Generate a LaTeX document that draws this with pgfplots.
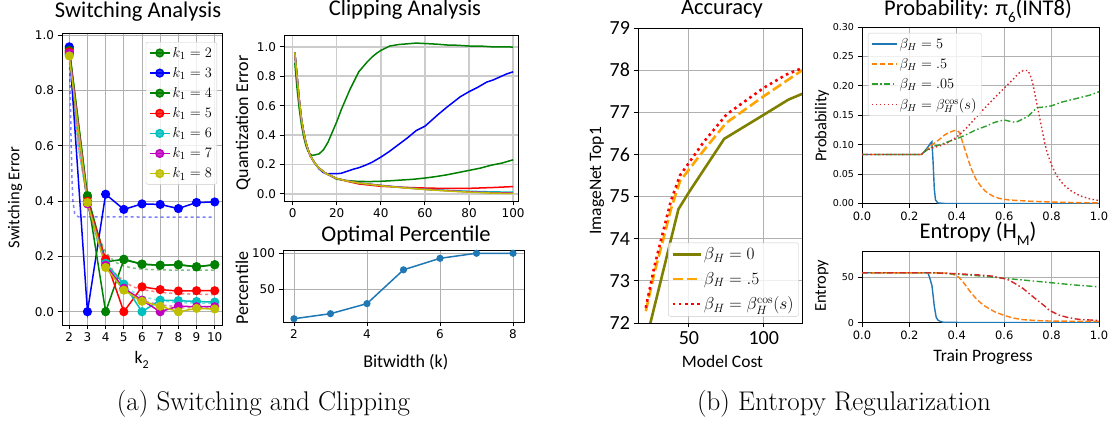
\documentclass[border=0pt]{standalone}
\usepackage{pgfplots}
\pgfplotsset{compat=1.18}
\usepackage{fontspec}
\newfontfamily\carl{Carlito}
\newfontfamily\dv{DejaVu Sans}
\definecolor{mg}{rgb}{0,0.5,0}
\definecolor{mb}{rgb}{0,0,1}
\definecolor{mr}{rgb}{1,0,0}
\definecolor{mc}{rgb}{0,0.75,0.75}
\definecolor{mm}{rgb}{0.75,0,0.75}
\definecolor{my}{rgb}{0.75,0.75,0}
\definecolor{tabblue}{HTML}{1F77B4}
\definecolor{taborange}{HTML}{FF7F0E}
\definecolor{tabgreen}{HTML}{2CA02C}
\definecolor{tabred}{HTML}{D62728}
\definecolor{accolive}{HTML}{808000}
\definecolor{accorange}{HTML}{FFA500}
\definecolor{gridc}{HTML}{B0B0B0}
\pgfplotsset{
  mpl/.style={
    scale only axis,
    axis line style={black, line width=0.9pt},
    tick style={black, line width=0.9pt},
    major tick length=4.5pt,
    tick align=outside,
    tick pos=left,
    grid=major,
    grid style={gridc, line width=0.9pt},
    /pgf/number format/assume math mode=true,
    tick label style={font=\dv\fontsize{12}{14}\selectfont},
    legend cell align=left,
    anchor=south west,
  },
  onedec/.style={/pgf/number format/fixed, /pgf/number format/fixed zerofill, /pgf/number format/precision=1},
  twodec/.style={/pgf/number format/fixed, /pgf/number format/fixed zerofill, /pgf/number format/precision=2},
}
\begin{document}
\begin{tikzpicture}
\useasboundingbox (0,0) rectangle (1110pt,425pt);

% ---------------- Switching Analysis ----------------
\begin{axis}[mpl, at={(62pt,100pt)}, width=160pt, height=292pt,
  xmin=1.6, xmax=10.4, ymin=-0.048, ymax=1.008,
  xtick={2,3,4,5,6,7,8,9,10}, ytick={0,0.2,0.4,0.6,0.8,1.0},
  yticklabel style={onedec},
  legend style={at={(0.969,0.969)}, anchor=north east, font=\fontsize{15}{17}\selectfont,
    draw=black!20, rounded corners=2pt, fill=white, fill opacity=0.8, text opacity=1,
    row sep=4.6pt, inner sep=3pt},
  legend image code/.code={\draw[#1, mark repeat=2, mark phase=2] plot coordinates {(0pt,0pt) (10pt,0pt) (20pt,0pt)};},
]
\addplot[forget plot, mb, opacity=0.5, line width=1.5pt, dashed] coordinates {(2,0.95)(2.05,0.80)(2.1,0.62)(2.15,0.48)(2.2,0.40)(2.3,0.355)(2.5,0.343)(10,0.342)};
\addplot[forget plot, mg, opacity=0.5, line width=1.5pt, dashed] coordinates {(2,0.95)(2.5,0.62)(3,0.42)(3.5,0.29)(4,0.215)(4.5,0.18)(5,0.165)(5.5,0.158)(6,0.154)(7,0.151)(10,0.15)};
\addplot[forget plot, mr, opacity=0.5, line width=1.5pt, dashed] coordinates {(2,0.94)(2.5,0.6)(3,0.4)(3.5,0.27)(4,0.19)(4.5,0.14)(5,0.11)(5.5,0.09)(6,0.08)(7,0.07)(8,0.065)(10,0.062)};
\addplot[forget plot, mc, opacity=0.5, line width=1.5pt, dashed] coordinates {(2,0.93)(2.5,0.59)(3,0.39)(3.5,0.26)(4,0.175)(4.5,0.12)(5,0.09)(6,0.055)(7,0.04)(8,0.033)(10,0.03)};
\addplot[forget plot, mm, opacity=0.5, line width=1.5pt, dashed] coordinates {(2,0.93)(3,0.39)(4,0.17)(5,0.08)(6,0.04)(7,0.025)(8,0.018)(10,0.015)};
\addplot[forget plot, my, opacity=0.5, line width=1.5pt, dashed] coordinates {(2,0.925)(3,0.39)(4,0.165)(5,0.075)(6,0.035)(7,0.02)(8,0.013)(10,0.01)};
\addplot[mg, line width=1.5pt, mark=*, mark size=3.8pt] coordinates {(2,0.952)(3,0.420)(4,0.180)(5,0.190)(6,0.172)(7,0.168)(8,0.170)(9,0.163)(10,0.170)};
\addlegendentry{$k_1 = 2$}
\addplot[mb, line width=1.5pt, mark=*, mark size=3.8pt] coordinates {(2,0.958)(3,0.0)(4,0.425)(5,0.370)(6,0.390)(7,0.388)(8,0.373)(9,0.395)(10,0.397)};
\addlegendentry{$k_1 = 3$}
\addplot[mg, line width=1.5pt, mark=*, mark size=3.8pt] coordinates {(2,0.945)(3,0.415)(4,0.0)(5,0.188)(6,0.172)(7,0.168)(8,0.170)(9,0.162)(10,0.170)};
\addlegendentry{$k_1 = 4$}
\addplot[mr, line width=1.5pt, mark=*, mark size=3.8pt] coordinates {(2,0.940)(3,0.400)(4,0.190)(5,0.0)(6,0.090)(7,0.080)(8,0.075)(9,0.076)(10,0.076)};
\addlegendentry{$k_1 = 5$}
\addplot[mc, line width=1.5pt, mark=*, mark size=3.8pt] coordinates {(2,0.930)(3,0.392)(4,0.175)(5,0.100)(6,0.0)(7,0.042)(8,0.040)(9,0.037)(10,0.035)};
\addlegendentry{$k_1 = 6$}
\addplot[mm, line width=1.5pt, mark=*, mark size=3.8pt] coordinates {(2,0.935)(3,0.390)(4,0.168)(5,0.085)(6,0.042)(7,0.0)(8,0.020)(9,0.018)(10,0.018)};
\addlegendentry{$k_1 = 7$}
\addplot[my, line width=1.5pt, mark=*, mark size=3.8pt] coordinates {(2,0.925)(3,0.395)(4,0.160)(5,0.078)(6,0.038)(7,0.020)(8,0.0)(9,0.012)(10,0.010)};
\addlegendentry{$k_1 = 8$}
\end{axis}

% ---------------- Clipping Analysis ----------------
\begin{axis}[mpl, at={(284pt,224pt)}, width=234pt, height=166pt,
  xmin=-3.9, xmax=102.2, ymin=-0.048, ymax=1.08,
  xtick={0,20,40,60,80,100}, ytick={0,0.2,0.4,0.6,0.8,1.0},
  grid style={black!20, line width=1.5pt},
  yticklabel style={onedec},
]
\addplot[mg, line width=1.5pt] coordinates {(1,0.89)(2,0.72)(3,0.58)(4,0.47)(5,0.39)(6,0.33)(7,0.29)(8,0.27)(9,0.262)(10,0.265)(12,0.272)(14,0.30)(16,0.35)(18,0.42)(20,0.49)(22,0.57)(24,0.64)(26,0.71)(28,0.77)(30,0.83)(32,0.865)(34,0.90)(36,0.93)(38,0.955)(40,0.975)(42,0.99)(44,1.005)(48,1.015)(52,1.02)(56,1.025)(60,1.022)(65,1.018)(70,1.012)(75,1.01)(80,1.005)(85,1.005)(90,1.0)(95,1.0)(100,0.998)};
\addplot[mb, line width=1.5pt] coordinates {(1,0.96)(2,0.80)(3,0.64)(4,0.51)(5,0.42)(6,0.35)(7,0.30)(8,0.26)(10,0.21)(12,0.17)(14,0.145)(16,0.137)(18,0.138)(20,0.138)(22,0.14)(25,0.155)(28,0.17)(30,0.178)(33,0.195)(36,0.215)(40,0.25)(44,0.29)(48,0.335)(52,0.38)(56,0.43)(60,0.46)(63,0.50)(66,0.54)(70,0.59)(73,0.625)(76,0.66)(80,0.695)(84,0.725)(88,0.76)(91,0.775)(94,0.795)(97,0.815)(100,0.83)};
\addplot[mg, line width=1.5pt] coordinates {(1,0.96)(2,0.80)(3,0.64)(4,0.51)(5,0.42)(6,0.35)(7,0.30)(8,0.26)(10,0.21)(12,0.175)(15,0.14)(20,0.10)(25,0.09)(30,0.085)(35,0.084)(40,0.086)(45,0.09)(50,0.095)(55,0.10)(60,0.108)(65,0.118)(70,0.13)(75,0.145)(80,0.16)(85,0.175)(90,0.195)(95,0.21)(100,0.232)};
\addplot[mr, line width=1.5pt] coordinates {(1,0.96)(2,0.80)(3,0.64)(4,0.51)(5,0.42)(6,0.35)(7,0.30)(8,0.26)(10,0.21)(12,0.175)(15,0.14)(20,0.105)(25,0.085)(30,0.068)(40,0.052)(50,0.045)(60,0.04)(70,0.037)(80,0.038)(90,0.043)(100,0.05)};
\addplot[mc, line width=1.5pt] coordinates {(1,0.96)(2,0.80)(3,0.64)(4,0.51)(5,0.42)(6,0.35)(7,0.30)(8,0.26)(10,0.21)(12,0.175)(15,0.14)(20,0.105)(25,0.088)(30,0.075)(40,0.058)(50,0.044)(60,0.032)(70,0.024)(80,0.018)(90,0.014)(100,0.012)};
\addplot[mm, line width=1.5pt] coordinates {(1,0.96)(2,0.80)(3,0.64)(4,0.51)(5,0.42)(6,0.35)(7,0.30)(8,0.26)(10,0.21)(12,0.175)(15,0.14)(20,0.105)(25,0.088)(30,0.075)(40,0.058)(50,0.043)(60,0.031)(70,0.022)(80,0.014)(90,0.009)(100,0.006)};
\addplot[my, line width=1.5pt] coordinates {(1,0.96)(2,0.80)(3,0.64)(4,0.51)(5,0.42)(6,0.35)(7,0.30)(8,0.26)(10,0.21)(12,0.175)(15,0.14)(20,0.105)(25,0.087)(30,0.074)(40,0.056)(50,0.042)(60,0.030)(70,0.020)(80,0.012)(90,0.006)(100,0.003)};
\end{axis}

% ---------------- Optimal Percentile ----------------
\begin{axis}[mpl, at={(283pt,103pt)}, width=241pt, height=72pt,
  xmin=1.7, xmax=8.3, ymin=4.45, ymax=104.55,
  xtick={2,4,6,8}, ytick={50,100},
]
\addplot[tabblue, line width=1.5pt, mark=*, mark size=2.8pt] coordinates {(2,9)(3,16)(4,30)(5,77)(6,93)(7,100)(8,100)};
\end{axis}

% ---------------- Accuracy ----------------
\begin{axis}[mpl, at={(638pt,102pt)}, width=164pt, height=295pt,
  xmin=16, xmax=125.6, ymin=72, ymax=79,
  xtick={50,100}, ytick={72,73,74,75,76,77,78,79},
  tick label style={font=\carl\fontsize{20}{24}\selectfont},
  legend style={at={(0.98,0.022)}, anchor=south east, font=\fontsize{17}{19}\selectfont,
    draw=black!20, rounded corners=2pt, fill=white, fill opacity=0.8, text opacity=1,
    row sep=7pt, inner sep=3pt},
  legend image code/.code={\draw[#1] (0pt,0pt) -- (28pt,0pt);},
]
\addplot[accolive, line width=2.6pt] coordinates {(21.5,71.6)(43,74.7)(50,75.1)(73.6,76.37)(100,76.94)(116.5,77.3)(125.9,77.44)};
\addlegendentry{$\beta_H = 0$}
\addplot[accorange, line width=2.6pt, dash pattern=on 10pt off 4pt] coordinates {(21.2,72.28)(27,73.2)(33,74.0)(38,74.7)(44,75.36)(50,75.64)(60,76.1)(75,76.75)(100,77.38)(125.8,78.0)};
\addlegendentry{$\beta_H = .5$}
\addplot[mr, line width=2.6pt, dash pattern=on 2.6pt off 3.6pt] coordinates {(21.2,72.36)(27,73.35)(33,74.2)(38,74.9)(44,75.5)(50,75.8)(60,76.3)(75.2,76.95)(100,77.58)(115.4,77.9)(125.8,78.05)};
\addlegendentry{$\beta_H = \beta_H^{\cos}(s)$}
\end{axis}

% ---------------- Probability ----------------
\begin{axis}[mpl, at={(862pt,221.5pt)}, width=237pt, height=176.5pt,
  xmin=0, xmax=1, ymin=0, ymax=0.3,
  xtick={0,0.2,0.4,0.6,0.8,1.0}, ytick={0,0.05,0.1,0.15,0.2,0.25,0.3},
  xticklabel style={onedec, font=\dv\fontsize{11.5}{13}\selectfont},
  yticklabel style={twodec, font=\dv\fontsize{9.5}{11}\selectfont},
  legend style={at={(0.025,0.966)}, anchor=north west, font=\fontsize{14.5}{16}\selectfont,
    draw=black!20, rounded corners=2pt, fill=white, fill opacity=0.8, text opacity=1,
    row sep=4.6pt, inner sep=3pt},
  legend image code/.code={\draw[#1] (0pt,0pt) -- (25pt,0pt);},
]
\addplot[tabblue, line width=1.4pt] coordinates {(0,0.0833)(0.25,0.0833)(0.26,0.087)(0.27,0.092)(0.28,0.097)(0.29,0.103)(0.295,0.105)(0.30,0.07)(0.305,0.025)(0.31,0.006)(0.32,0.001)(0.35,0.0)(1,0.0)};
\addlegendentry{$\beta_H = 5$}
\addplot[taborange, line width=1.4pt, dash pattern=on 5.5pt off 2.5pt] coordinates {(0,0.0833)(0.25,0.0833)(0.27,0.09)(0.29,0.098)(0.31,0.104)(0.33,0.11)(0.35,0.117)(0.37,0.121)(0.39,0.124)(0.40,0.1245)(0.41,0.121)(0.42,0.11)(0.43,0.097)(0.44,0.085)(0.45,0.072)(0.46,0.06)(0.48,0.042)(0.50,0.03)(0.52,0.021)(0.55,0.013)(0.58,0.0085)(0.62,0.006)(0.7,0.004)(0.8,0.0025)(0.9,0.0015)(1.0,0.001)};
\addlegendentry{$\beta_H = .5$}
\addplot[tabgreen, line width=1.4pt, dash pattern=on 6pt off 2.5pt on 1.5pt off 2.5pt] coordinates {(0,0.0833)(0.25,0.0833)(0.27,0.09)(0.30,0.097)(0.33,0.10)(0.37,0.106)(0.40,0.11)(0.44,0.117)(0.48,0.125)(0.52,0.131)(0.56,0.138)(0.60,0.142)(0.63,0.139)(0.65,0.138)(0.67,0.142)(0.70,0.148)(0.72,0.156)(0.74,0.163)(0.77,0.164)(0.80,0.166)(0.84,0.172)(0.88,0.176)(0.92,0.18)(0.96,0.184)(1.0,0.19)};
\addlegendentry{$\beta_H = .05$}
\addplot[tabred, line width=1.4pt, dash pattern=on 1.5pt off 2.5pt] coordinates {(0,0.0833)(0.25,0.0833)(0.27,0.09)(0.30,0.095)(0.33,0.098)(0.36,0.103)(0.40,0.113)(0.44,0.128)(0.48,0.146)(0.52,0.163)(0.56,0.18)(0.60,0.196)(0.63,0.208)(0.66,0.221)(0.68,0.226)(0.70,0.226)(0.71,0.218)(0.72,0.205)(0.73,0.185)(0.74,0.165)(0.75,0.145)(0.76,0.125)(0.77,0.105)(0.78,0.088)(0.80,0.065)(0.82,0.048)(0.85,0.032)(0.88,0.022)(0.92,0.013)(0.96,0.008)(1.0,0.005)};
\addlegendentry{$\beta_H = \beta_H^{\cos}(s)$}
\end{axis}

% ---------------- Entropy ----------------
\begin{axis}[mpl, at={(862pt,102.3pt)}, width=237pt, height=71.7pt,
  xmin=0, xmax=1, ymin=0, ymax=79,
  xtick={0,0.2,0.4,0.6,0.8,1.0}, ytick={0,50},
  xticklabel style={onedec, font=\dv\fontsize{11.5}{13}\selectfont},
  yticklabel style={font=\dv\fontsize{9.5}{11}\selectfont},
]
\addplot[tabblue, line width=1.4pt] coordinates {(0,55)(0.278,55)(0.285,50)(0.295,41)(0.30,30)(0.305,18)(0.313,6)(0.32,3)(0.33,1.5)(0.345,0.3)(1,0)};
\addplot[taborange, line width=1.4pt, dash pattern=on 5.5pt off 2.5pt] coordinates {(0,55)(0.36,54.8)(0.4,52)(0.42,47)(0.44,40)(0.46,33)(0.48,27)(0.5,22)(0.52,18)(0.54,15)(0.56,12)(0.6,8)(0.64,5)(0.68,3.3)(0.75,2.2)(0.8,1.8)(0.9,1.6)(1.0,1.5)};
\addplot[tabgreen, line width=1.4pt, dash pattern=on 6pt off 2.5pt on 1.5pt off 2.5pt] coordinates {(0,55)(0.3,55)(0.4,53.5)(0.5,51.5)(0.6,49)(0.7,46.5)(0.8,44)(0.9,41.5)(1.0,39.5)};
\addplot[tabred, line width=1.4pt, dash pattern=on 6pt off 2.5pt on 1.5pt off 2.5pt] coordinates {(0,55)(0.3,55)(0.4,54)(0.5,52.5)(0.55,51.3)(0.6,48.5)(0.62,46.9)(0.65,42.5)(0.68,37.6)(0.71,31)(0.74,24.7)(0.77,18.5)(0.79,13.7)(0.83,8.5)(0.86,6.3)(0.9,4.2)(0.93,3.3)(1.0,2.6)};
\end{axis}

% ---------------- Texts ----------------
\begin{scope}[every node/.style={inner sep=0pt}]
\node[anchor=base, font=\carl\fontsize{22.5}{26}\selectfont] at (138pt,407.5pt) {Switching Analysis};
\node[anchor=base, font=\carl\fontsize{22.5}{26}\selectfont] at (405pt,409pt) {Clipping Analysis};
\node[anchor=base, font=\carl\fontsize{22.5}{26}\selectfont] at (406pt,183.3pt) {Optimal Percentile};
\node[anchor=base, font=\carl\fontsize{22.5}{26}\selectfont] at (722pt,410pt) {Accuracy};
\node[anchor=base, font=\carl\fontsize{22.5}{26}\selectfont] at (978pt,409pt) {Probability: π\raisebox{-0.3em}{\fontsize{15}{15}\selectfont 6}(INT8)};
\node[anchor=base, font=\carl\fontsize{22.5}{26}\selectfont] at (978pt,186pt) {Entropy (H\raisebox{-0.3em}{\fontsize{15}{15}\selectfont M})};

\node[rotate=90, font=\carl\fontsize{16.5}{19}\selectfont] at (15pt,227.5pt) {Switching Error};
\node[rotate=90, font=\carl\fontsize{18}{21}\selectfont] at (243pt,302pt) {Quantization Error};
\node[rotate=90, font=\carl\fontsize{18}{21}\selectfont] at (242pt,136.7pt) {Percentile};
\node[rotate=90, font=\carl\fontsize{17.5}{21}\selectfont] at (597pt,244.2pt) {ImageNet Top1};
\node[rotate=90, font=\carl\fontsize{16.5}{19}\selectfont] at (822pt,299.2pt) {Probability};
\node[rotate=90, font=\carl\fontsize{16.5}{19}\selectfont] at (822pt,139.2pt) {Entropy};

\node[font=\carl\fontsize{17.5}{21}\selectfont] at (141.7pt,65pt) {k\raisebox{-0.3em}{\fontsize{12}{12}\selectfont 2}};
\node[font=\carl\fontsize{18}{21}\selectfont] at (405.8pt,63.3pt) {Bitwidth (k)};
\node[font=\carl\fontsize{17.5}{21}\selectfont] at (722.5pt,63.3pt) {Model Cost};
\node[font=\carl\fontsize{17.5}{21}\selectfont] at (983pt,68.3pt) {Train Progress};

\node[anchor=base, font=\fontsize{27}{32}\selectfont] at (263.5pt,14.3pt) {(a) Switching and Clipping};
\node[anchor=base, font=\fontsize{27}{32}\selectfont] at (844pt,14.3pt) {(b) Entropy Regularization};
\end{scope}
\end{tikzpicture}
\end{document}
